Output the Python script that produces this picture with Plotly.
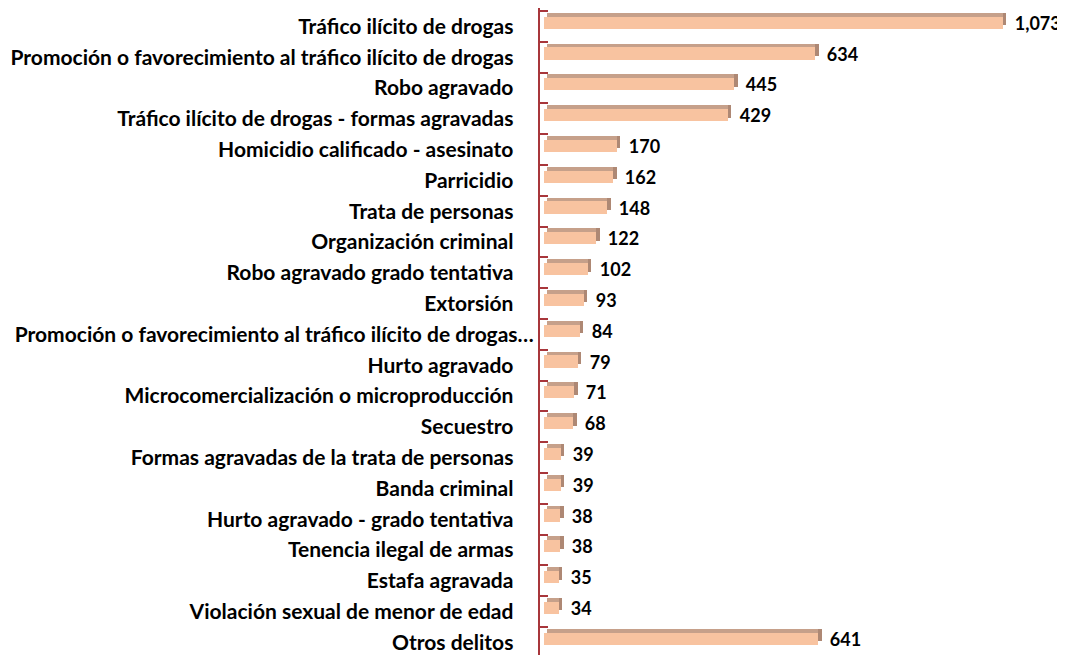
import plotly.graph_objects as go

categories = [
    "Tráfico ilícito de drogas",
    "Promoción o favorecimiento al tráfico ilícito de drogas",
    "Robo agravado",
    "Tráfico ilícito de drogas - formas agravadas",
    "Homicidio calificado - asesinato",
    "Parricidio",
    "Trata de personas",
    "Organización criminal",
    "Robo agravado grado tentativa",
    "Extorsión",
    "Promoción o favorecimiento al tráfico ilícito de drogas…",
    "Hurto agravado",
    "Microcomercialización o microproducción",
    "Secuestro",
    "Formas agravadas de la trata de personas",
    "Banda criminal",
    "Hurto agravado - grado tentativa",
    "Tenencia ilegal de armas",
    "Estafa agravada",
    "Violación sexual de menor de edad",
    "Otros delitos",
]
values = [1073, 634, 445, 429, 170, 162, 148, 122, 102, 93, 84, 79, 71, 68, 39, 39, 38, 38, 35, 34, 641]

# truncated labels fill the full label width; the others keep a small right padding
tick_text = [c if c.endswith("…") else c + "\u00a0" * 4 for c in categories]

DEPTH = 8  # depth of 3D effect in data units (style)
FONT = "Lato"
AXIS_RED = "#A8363B"
n = len(values)

fig = go.Figure()
# top face (shifted box)
fig.add_trace(go.Bar(
    y=categories, x=values, base=[DEPTH] * n, orientation="h",
    width=0.40, offset=-0.44,
    marker=dict(color="#C6A08A", line=dict(width=0)),
    hoverinfo="skip", showlegend=False,
))
# right face
fig.add_trace(go.Bar(
    y=categories, x=[DEPTH] * n, base=values, orientation="h",
    width=0.40, offset=-0.44,
    marker=dict(color="#AE8874", line=dict(width=0)),
    hoverinfo="skip", showlegend=False,
))
# front face with value labels
fig.add_trace(go.Bar(
    y=categories, x=values, orientation="h",
    width=0.40, offset=-0.32,
    marker=dict(color="#F8C3A0", line=dict(width=0)),
    texttemplate="  %{x:,}", textposition="outside", constraintext="none",
    textfont=dict(family=FONT, size=18, color="#000000", weight="bold"),
    cliponaxis=False, showlegend=False,
))

fig.update_layout(
    width=1065, height=655,
    margin=dict(l=532, r=0, t=0, b=0, autoexpand=False),
    paper_bgcolor="white", plot_bgcolor="white",
    barmode="overlay",
    bargap=0,
    uniformtext=dict(mode=False),
)
fig.update_xaxes(
    range=[-9.35, 1236.6], showgrid=False, zeroline=False,
    showticklabels=False, ticks="", showline=False,
)
fig.update_yaxes(
    type="category", categoryorder="array", categoryarray=categories,
    tickmode="array", tickvals=categories, ticktext=tick_text,
    range=[20.67, -0.597], automargin=False,
    showgrid=False, zeroline=False,
    showline=True, linecolor=AXIS_RED, linewidth=2,
    ticks="inside", tickson="boundaries", ticklen=8, tickcolor=AXIS_RED, tickwidth=2,
    ticklabelstandoff=0,
    tickfont=dict(family=FONT, size=21, color="#000000", weight="bold"),
)

fig.write_html("out.html")
